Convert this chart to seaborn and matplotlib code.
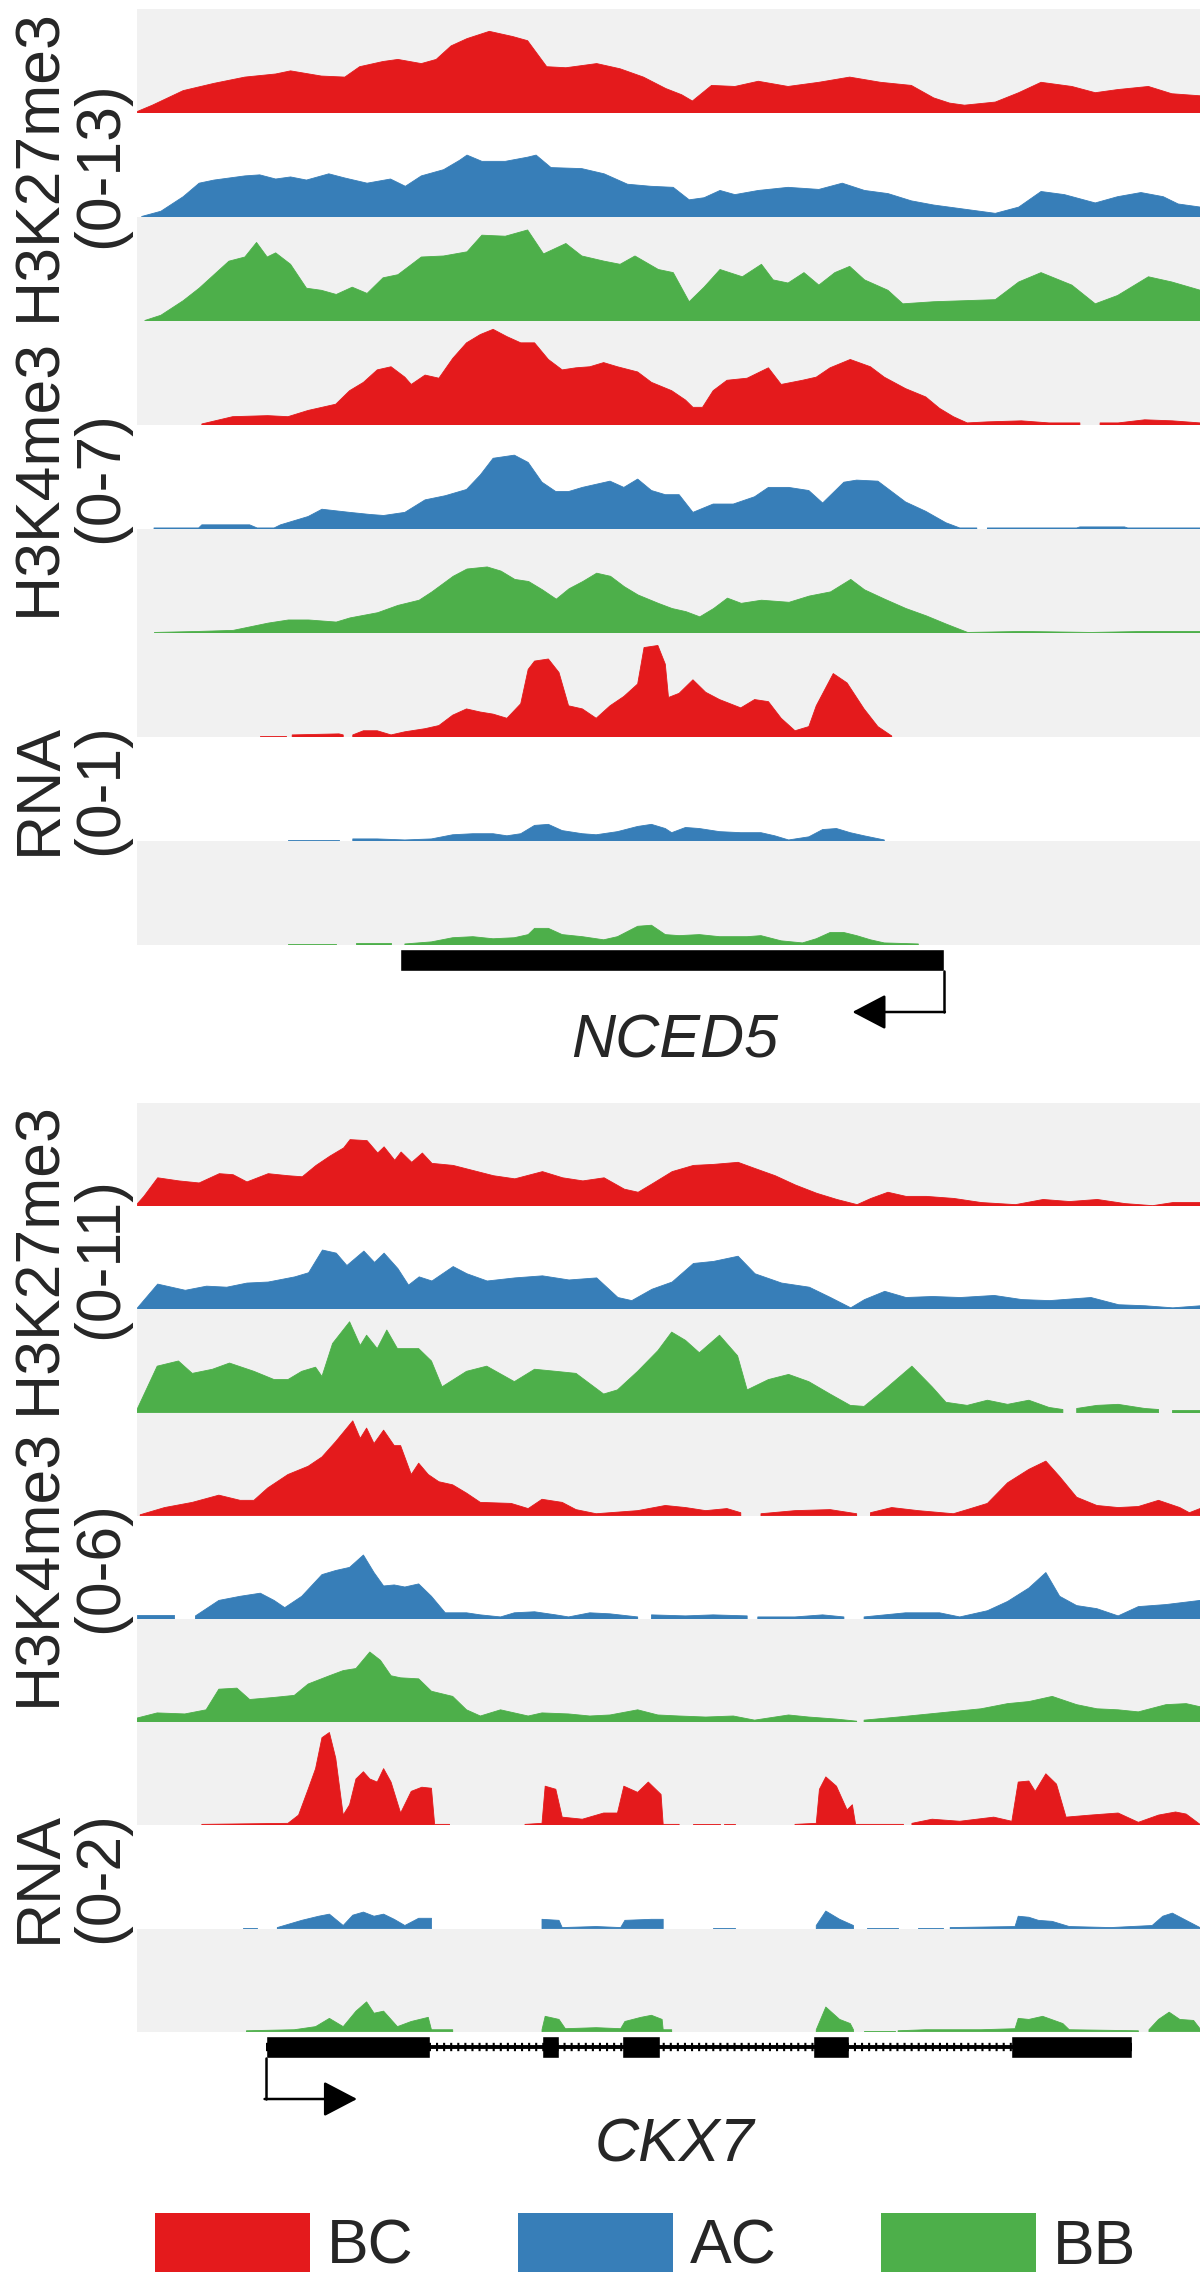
import matplotlib
matplotlib.use("Agg")
import matplotlib.pyplot as plt
from matplotlib.patches import Patch
import seaborn as sns

NAN = float("nan")

# Coverage tracks: (position along the locus in %, signal as a fraction of
# the group range written in the y label). NAN marks a bin without data.

# ---------------- NCED5 locus ----------------
NCED5_K27_BC = [(0, .02), (1.4, .08), (4.3, .22), (7.2, .29), (10.1, .35), (13.0, .38), (14.4, .41),
                (17.3, .36), (19.5, .35), (20.9, .45), (23.1, .50), (24.5, .52), (26.7, .48), (28.1, .52),
                (29.5, .65), (31.0, .72), (33.1, .79), (35.3, .74), (36.7, .70), (38.5, .45), (40.3, .44),
                (43.2, .48), (45.4, .43), (47.6, .35), (49.7, .24), (51.2, .18), (52.2, .12), (54.0, .27),
                (56.2, .26), (58.4, .31), (61.2, .26), (64.1, .30), (67.0, .35), (69.9, .30), (72.8, .27),
                (74.9, .15), (76.4, .10), (77.8, .08), (80.7, .11), (82.9, .20), (85.0, .30), (87.9, .26),
                (90.1, .20), (92.2, .23), (95.1, .26), (97.3, .19), (100, .17)]
NCED5_K27_AC = [(0.4, .01), (2.2, .06), (4.3, .20), (5.8, .33), (7.2, .36), (10.1, .40), (11.5, .41),
                (13.0, .37), (14.4, .39), (15.9, .36), (18.0, .42), (19.5, .38), (21.6, .33), (23.8, .37),
                (25.2, .30), (26.7, .40), (28.8, .46), (30.3, .55), (31.0, .60), (32.4, .54), (34.6, .54),
                (36.7, .58), (37.5, .60), (38.9, .48), (41.8, .47), (43.9, .42), (46.1, .32), (48.3, .30),
                (50.4, .29), (51.9, .17), (53.3, .19), (54.8, .26), (56.2, .22), (58.4, .26), (61.2, .29),
                (64.1, .27), (66.3, .33), (68.4, .26), (70.6, .23), (72.8, .16), (74.9, .12), (77.8, .08),
                (80.7, .04), (82.9, .10), (85.0, .25), (87.2, .22), (90.1, .14), (92.2, .20), (94.4, .24),
                (96.5, .20), (97.9, .13), (100, .10)]
NCED5_K27_BB = [(0.7, .01), (2.2, .06), (4.3, .20), (5.8, .32), (7.2, .45), (8.6, .58), (10.1, .62),
                (11.2, .76), (12.2, .62), (13.0, .66), (14.4, .55), (15.9, .32), (17.3, .30), (18.7, .26),
                (20.2, .33), (21.6, .27), (23.1, .42), (24.5, .45), (26.7, .62), (28.8, .63), (31.0, .67),
                (32.4, .83), (34.6, .82), (36.7, .88), (38.2, .65), (40.3, .75), (41.8, .63), (43.9, .58),
                (45.4, .55), (46.8, .63), (49.0, .50), (50.4, .47), (51.9, .19), (53.3, .33), (54.8, .50),
                (56.9, .43), (58.7, .55), (59.8, .40), (61.2, .37), (62.7, .47), (64.1, .35), (65.6, .47),
                (67.0, .53), (68.4, .40), (70.6, .30), (72.0, .17), (74.9, .19), (77.8, .20), (80.7, .21),
                (82.9, .38), (85.0, .47), (87.9, .35), (90.1, .17), (92.2, .25), (95.1, .43), (97.3, .38),
                (100, .30)]
NCED5_K4_BC = [(6.1, .01), (9.0, .08), (12.3, .09), (14.2, .08), (16.1, .14), (18.7, .20), (20.0, .33),
               (21.3, .41), (22.6, .53), (23.9, .56), (25.2, .46), (25.8, .39), (27.1, .48), (28.4, .45),
               (29.7, .64), (31.0, .79), (32.3, .87), (33.5, .92), (34.8, .85), (36.1, .79), (37.4, .79),
               (38.7, .63), (40.0, .53), (41.3, .55), (42.6, .56), (43.9, .60), (45.2, .56), (47.1, .51),
               (48.4, .41), (50.3, .33), (51.6, .24), (52.3, .17), (53.2, .17), (54.2, .33), (55.5, .43),
               (57.4, .45), (59.4, .55), (60.6, .39), (62.6, .43), (63.9, .46), (65.2, .55), (67.1, .63),
               (69.0, .56), (70.3, .46), (72.3, .35), (74.2, .27), (75.5, .16), (76.8, .08), (78.1, .02),
               (80.0, .03), (83.2, .04), (85.8, .02), (88.7, .02), (89.6, NAN), (90.6, .02), (92.3, .02),
               (94.8, .05), (97.4, .04), (100, .02)]
NCED5_K4_AC = [(1.6, .01), (5.8, .01), (6.1, .04), (10.6, .04), (11.3, .01), (12.9, .01), (13.5, .04),
               (16.1, .12), (17.4, .19), (20.0, .16), (21.9, .14), (23.2, .13), (25.2, .16), (27.1, .28),
               (29.0, .32), (31.0, .38), (32.3, .52), (33.5, .68), (35.5, .71), (36.8, .64), (38.1, .45),
               (39.4, .36), (40.6, .36), (41.9, .40), (43.2, .43), (44.5, .46), (45.8, .40), (47.1, .48),
               (48.4, .37), (49.7, .33), (51.0, .33), (52.3, .16), (54.2, .24), (56.1, .24), (58.1, .31),
               (59.4, .40), (61.3, .40), (63.2, .37), (64.5, .25), (66.5, .45), (67.7, .47), (69.7, .46),
               (71.0, .36), (72.3, .26), (74.2, .17), (76.1, .06), (77.4, .01), (79.0, .01), (79.5, NAN),
               (80.0, .01), (88.4, .01), (88.7, .02), (92.9, .02), (93.2, .01), (100, .01)]
NCED5_K4_BB = [(1.6, .01), (5.8, .02), (9.0, .03), (12.3, .10), (14.2, .13), (16.1, .13), (18.7, .11),
               (20.0, .15), (22.6, .20), (24.5, .27), (26.5, .32), (27.7, .40), (29.7, .55), (31.0, .62),
               (32.9, .64), (34.2, .60), (35.5, .52), (36.8, .50), (38.1, .42), (39.4, .33), (40.6, .43),
               (41.9, .50), (43.2, .58), (44.5, .55), (45.8, .45), (47.1, .37), (49.0, .29), (50.3, .24),
               (51.6, .21), (52.9, .16), (54.2, .24), (55.5, .34), (56.8, .29), (58.7, .32), (61.3, .30),
               (63.2, .36), (65.2, .40), (67.1, .52), (68.4, .42), (70.3, .33), (72.3, .24), (74.2, .17),
               (76.1, .09), (78.1, .01), (83.2, .02), (89.7, .01), (94.8, .02), (100, .02)]
NCED5_RNA_BC = [(11.6, .01), (14.0, .01), (14.3, NAN), (14.6, .02), (19.0, .03), (19.4, .02), (19.9, NAN),
                (20.3, .02), (21.3, .06), (22.6, .06), (23.9, .02), (25.2, .05), (27.1, .08), (28.4, .11),
                (29.7, .21), (31.0, .27), (32.3, .24), (33.5, .22), (34.8, .18), (36.1, .32), (36.8, .65),
                (37.4, .73), (38.7, .75), (39.7, .62), (40.6, .30), (41.9, .27), (43.2, .18), (44.5, .30),
                (45.8, .39), (47.1, .51), (47.7, .86), (49.0, .88), (49.7, .70), (50.0, .38), (51.0, .42),
                (52.3, .55), (53.5, .43), (54.8, .36), (56.8, .28), (58.1, .36), (59.4, .34), (60.6, .18),
                (61.9, .06), (63.2, .10), (63.9, .30), (65.5, .61), (66.8, .52), (68.4, .27), (69.7, .10),
                (71.0, .01)]
NCED5_RNA_AC = [(14.2, .01), (19.0, .01), (19.7, NAN), (20.3, .02), (22.6, .02), (25.2, .01), (27.7, .02),
                (29.7, .06), (31.6, .07), (33.5, .07), (34.8, .05), (36.1, .07), (37.4, .15), (38.7, .16),
                (40.0, .10), (41.9, .07), (43.2, .06), (45.2, .09), (47.1, .14), (48.4, .16), (49.7, .12),
                (50.3, .08), (51.6, .13), (52.9, .12), (54.8, .09), (56.8, .08), (58.7, .08), (60.0, .05),
                (61.3, .01), (63.2, .04), (64.5, .11), (65.8, .12), (67.1, .08), (68.4, .05), (70.3, .01)]
NCED5_RNA_BB = [(14.2, .01), (18.7, .01), (19.4, NAN), (20.6, .02), (23.9, .02), (24.5, NAN), (25.2, .01),
                (27.7, .03), (29.7, .07), (31.6, .08), (33.5, .06), (35.5, .07), (36.8, .10), (37.4, .16),
                (38.7, .16), (40.0, .10), (41.9, .08), (43.9, .05), (45.2, .08), (47.1, .18), (48.4, .19),
                (49.7, .10), (51.0, .09), (52.9, .10), (54.8, .08), (57.4, .08), (58.7, .09), (60.6, .04),
                (62.6, .02), (63.9, .06), (65.2, .12), (66.5, .12), (67.7, .09), (69.0, .05), (70.3, .02),
                (73.5, .01)]

# ---------------- CKX7 locus ----------------
CKX7_K27_BC = [(0, .03), (0.6, .10), (1.9, .28), (3.9, .25), (5.8, .23), (7.7, .32), (9.0, .31), (10.3, .24),
               (12.3, .32), (14.2, .30), (15.5, .29), (16.8, .40), (18.1, .49), (19.4, .57), (20.0, .65),
               (21.6, .64), (22.6, .52), (23.2, .58), (24.2, .45), (24.8, .53), (25.8, .43), (26.8, .52),
               (27.7, .42), (29.7, .40), (31.6, .35), (33.5, .30), (35.5, .27), (38.1, .34), (40.0, .28),
               (41.9, .25), (43.9, .28), (45.8, .17), (47.1, .14), (48.4, .22), (50.3, .34), (52.3, .40),
               (54.2, .41), (56.5, .43), (58.1, .37), (60.0, .30), (61.9, .21), (63.9, .13), (65.8, .07),
               (67.7, .02), (69.0, .08), (70.6, .14), (72.3, .10), (74.2, .10), (76.8, .08), (79.4, .04),
               (82.6, .02), (85.2, .07), (87.7, .05), (90.3, .07), (92.9, .03), (95.5, .01), (97.4, .04),
               (100, .04)]
CKX7_K27_AC = [(0, .02), (1.9, .25), (3.2, .22), (4.5, .19), (6.5, .23), (8.4, .22), (10.3, .26), (12.3, .27),
               (14.8, .32), (16.1, .36), (17.4, .58), (18.7, .55), (19.7, .43), (21.3, .57), (22.3, .46),
               (23.2, .55), (24.5, .40), (25.5, .24), (26.5, .32), (27.7, .28), (29.7, .42), (31.0, .35),
               (32.9, .28), (35.5, .31), (38.1, .33), (40.6, .29), (43.2, .31), (45.2, .12), (46.5, .09),
               (48.4, .20), (50.3, .27), (52.3, .45), (54.2, .47), (56.5, .52), (58.1, .35), (60.6, .26),
               (63.2, .22), (65.2, .12), (67.1, .02), (68.4, .10), (70.3, .18), (72.3, .12), (74.8, .13),
               (77.4, .12), (80.6, .14), (83.2, .10), (85.8, .09), (89.7, .12), (92.3, .05), (94.8, .04),
               (97.4, .02), (100, .04)]
CKX7_K27_BB = [(0, .03), (1.9, .45), (3.9, .50), (5.2, .38), (7.1, .42), (8.7, .48), (11.0, .40), (12.9, .32),
               (14.2, .32), (15.5, .40), (16.8, .44), (17.4, .35), (18.4, .67), (20.0, .88), (21.0, .65),
               (21.6, .75), (22.6, .62), (23.5, .80), (24.5, .62), (26.5, .62), (27.7, .50), (28.7, .25),
               (31.0, .40), (32.9, .45), (35.5, .30), (37.4, .42), (39.4, .40), (41.3, .38), (43.9, .18),
               (45.2, .22), (47.1, .40), (49.0, .60), (50.3, .78), (51.6, .70), (52.9, .58), (54.8, .75),
               (56.5, .55), (57.4, .22), (59.4, .32), (61.3, .37), (63.2, .30), (65.2, .18), (67.1, .07),
               (68.4, .06), (70.3, .22), (72.9, .45), (74.8, .25), (76.1, .10), (78.1, .07), (80.0, .12),
               (81.9, .08), (83.9, .12), (85.8, .05), (87.1, .03), (87.5, NAN), (88.4, .04), (90.3, .07),
               (92.3, .08), (94.8, .04), (96.1, .03), (96.5, NAN), (97.4, .03), (100, .03)]
CKX7_K4_BC = [(0.3, .01), (2.6, .08), (5.2, .13), (7.7, .20), (9.7, .15), (11.0, .15), (12.3, .27), (14.2, .40),
              (16.1, .48), (17.4, .57), (18.7, .72), (20.3, .92), (21.0, .75), (21.6, .85), (22.3, .70),
              (23.2, .83), (24.2, .68), (24.8, .68), (25.8, .40), (26.5, .51), (27.4, .40), (28.4, .33),
              (29.7, .30), (31.0, .22), (32.3, .13), (35.2, .12), (36.8, .07), (38.1, .16), (40.0, .13),
              (41.3, .06), (43.2, .02), (44.5, .03), (47.1, .05), (49.7, .10), (51.6, .08), (53.5, .05),
              (55.5, .07), (56.8, .03), (57.8, NAN), (58.7, .02), (61.9, .05), (65.2, .06), (67.7, .02),
              (68.4, NAN), (69.0, .03), (71.0, .08), (73.5, .05), (76.8, .02), (78.1, .06), (80.0, .12),
              (81.9, .32), (83.9, .45), (85.5, .53), (86.8, .38), (88.4, .18), (90.3, .10), (92.3, .08),
              (94.2, .09), (96.1, .15), (98.1, .08), (99.0, .03), (100, .07)]
CKX7_K4_AC = [(0, .04), (3.5, .04), (4.5, NAN), (5.5, .03), (7.7, .18), (9.7, .22), (11.6, .25), (12.9, .18),
              (13.9, .11), (15.5, .22), (17.4, .43), (18.7, .47), (20.0, .50), (21.3, .62), (22.3, .45),
              (23.2, .32), (24.2, .33), (25.2, .31), (26.5, .34), (27.7, .22), (29.0, .06), (31.0, .06),
              (32.3, .04), (34.2, .02), (35.5, .06), (37.4, .07), (39.4, .04), (40.6, .02), (42.6, .06),
              (44.5, .05), (47.1, .02), (47.5, NAN), (48.4, .04), (51.6, .03), (54.2, .04), (57.4, .03),
              (58.0, NAN), (58.4, .02), (61.9, .02), (64.5, .04), (66.5, .02), (67.4, NAN), (68.4, .02),
              (72.3, .06), (75.5, .06), (77.4, .02), (80.0, .08), (81.9, .17), (83.9, .30), (85.5, .45),
              (86.8, .22), (88.4, .13), (90.3, .10), (92.3, .03), (94.2, .12), (96.8, .14), (100, .18)]
CKX7_K4_BB = [(0, .04), (1.9, .09), (4.5, .08), (6.5, .12), (7.7, .32), (9.4, .33), (10.6, .22), (12.9, .24),
              (14.8, .26), (16.1, .37), (18.1, .45), (19.4, .50), (20.6, .52), (21.9, .68), (22.9, .60),
              (23.9, .45), (24.8, .43), (26.5, .42), (27.7, .30), (29.7, .25), (31.0, .12), (32.3, .06),
              (34.2, .12), (36.8, .06), (38.1, .09), (40.6, .08), (42.6, .06), (44.5, .07), (47.1, .12),
              (49.0, .07), (51.0, .06), (53.5, .05), (56.1, .06), (58.1, .02), (61.3, .07), (63.2, .05),
              (65.8, .03), (67.7, .01), (68.1, NAN), (68.4, .02), (71.6, .05), (75.5, .09), (79.4, .13),
              (81.9, .18), (83.9, .20), (86.1, .25), (88.4, .17), (90.3, .13), (92.3, .12), (94.2, .10),
              (96.8, .17), (98.7, .18), (100, .15)]
CKX7_RNA_BC = [(6.1, .01), (14.2, .02), (15.2, .10), (16.1, .35), (16.8, .55), (17.4, .85), (18.1, .90),
               (18.7, .65), (19.4, .10), (20.0, .20), (20.6, .45), (21.3, .52), (21.9, .45), (22.6, .42),
               (23.2, .55), (23.9, .42), (24.8, .12), (25.8, .33), (26.8, .37), (27.7, .36), (28.0, .01),
               (29.4, .01), (29.8, NAN), (36.5, .01), (38.1, .02), (38.4, .38), (39.4, .35), (40.0, .08),
               (41.9, .06), (43.9, .12), (45.2, .12), (45.8, .38), (47.1, .32), (48.1, .42), (49.3, .30),
               (49.5, .01), (51.0, .01), (51.5, NAN), (52.3, .01), (54.8, .01), (55.0, NAN), (55.2, .01),
               (56.3, .01), (56.8, NAN), (61.9, .01), (63.9, .02), (64.2, .35), (64.8, .47), (65.8, .38),
               (66.8, .15), (67.3, .20), (67.6, .01), (72.1, .01), (72.4, NAN), (72.9, .02), (74.8, .06),
               (77.4, .04), (80.6, .08), (82.3, .04), (82.9, .42), (83.9, .43), (84.5, .33), (85.5, .50),
               (86.5, .40), (87.4, .08), (89.7, .10), (92.3, .12), (94.2, .03), (96.1, .10), (97.7, .13),
               (98.7, .11), (100, .01)]
CKX7_RNA_AC = [(10.0, .01), (11.3, .01), (12.0, NAN), (13.2, .01), (15.5, .08), (17.1, .12), (18.1, .14),
               (19.4, .03), (20.3, .13), (21.3, .16), (22.3, .12), (23.2, .14), (24.2, .09), (25.2, .03),
               (26.5, .10), (27.7, .10), (28.0, NAN), (38.1, .09), (39.7, .08), (40.0, .01), (43.2, .02),
               (45.5, .01), (45.9, .08), (48.4, .09), (49.5, .09), (49.8, NAN), (54.2, .01), (56.3, .01),
               (56.8, NAN), (63.9, .03), (64.8, .17), (66.1, .09), (67.4, .03), (68.0, NAN), (68.7, .01),
               (71.6, .01), (72.4, NAN), (73.5, .01), (75.8, .01), (76.1, NAN), (76.5, .01), (82.6, .02),
               (82.9, .12), (83.9, .11), (84.8, .08), (86.1, .07), (87.7, .02), (91.6, .01), (95.5, .03),
               (96.5, .12), (97.4, .15), (98.7, .08), (100, .01)]
CKX7_RNA_BB = [(10.3, .01), (14.8, .02), (16.8, .05), (18.1, .13), (19.4, .05), (20.6, .20), (21.6, .29),
               (22.3, .18), (23.2, .20), (24.5, .05), (25.8, .10), (27.4, .14), (27.7, .02), (29.7, .02),
               (30.0, NAN), (38.1, .02), (38.4, .15), (39.7, .12), (40.3, .03), (43.2, .04), (45.5, .03),
               (45.9, .10), (47.4, .14), (48.4, .16), (49.4, .12), (49.5, .02), (50.3, .02), (50.6, NAN),
               (63.9, .02), (64.8, .24), (66.1, .12), (67.1, .08), (67.4, .02), (67.9, NAN), (68.4, .01),
               (71.3, .01), (71.5, NAN), (71.6, .01), (74.2, .02), (79.4, .02), (82.6, .03), (82.9, .13),
               (83.9, .12), (85.2, .15), (87.1, .08), (87.7, .02), (94.2, .01), (94.6, NAN), (95.2, .02),
               (96.1, .12), (97.1, .19), (98.1, .12), (99.4, .11), (100, .03)]

SAMPLES = ["BC", "AC", "BB"]
MARKS = ["H3K27me3", "H3K4me3", "RNA"]
NCED5_RANGES = ["0-13", "0-7", "0-1"]
CKX7_RANGES = ["0-11", "0-6", "0-2"]

# gene models (start, end) in the same locus coordinates
NCED5_EXONS = [(24.7, 75.9)]
NCED5_STRAND = "-"
CKX7_EXONS = [(12.1, 27.6), (38.1, 39.7), (45.6, 49.2), (63.6, 67.0), (82.2, 93.6)]
CKX7_STRAND = "+"

NCED5_TRACKS = [NCED5_K27_BC, NCED5_K27_AC, NCED5_K27_BB,
                NCED5_K4_BC, NCED5_K4_AC, NCED5_K4_BB,
                NCED5_RNA_BC, NCED5_RNA_AC, NCED5_RNA_BB]
CKX7_TRACKS = [CKX7_K27_BC, CKX7_K27_AC, CKX7_K27_BB,
               CKX7_K4_BC, CKX7_K4_AC, CKX7_K4_BB,
               CKX7_RNA_BC, CKX7_RNA_AC, CKX7_RNA_BB]

sns.set_style("white")
plt.rcParams["font.family"] = ["Liberation Sans", "DejaVu Sans"]
palette = dict(zip(SAMPLES, sns.color_palette("Set1", 3)))
GREY = "#f1f1f1"

W, H = 1200, 2286
LEFT, RIGHT = 137, 1200
fig = plt.figure(figsize=(W / 100, H / 100), dpi=100)


def px_axes(x0, y0, x1, y1):
    return fig.add_axes([x0 / W, 1 - y1 / H, (x1 - x0) / W, (y1 - y0) / H])


def draw_tracks(tracks, ranges, top, step):
    for i, data in enumerate(tracks):
        sample = SAMPLES[i % 3]
        ax = px_axes(LEFT, top + i * step, RIGHT, top + (i + 1) * step)
        pos, sig = zip(*data)
        ax.fill_between(pos, 0, sig, color=palette[sample], linewidth=0.6)
        ax.set_facecolor("white" if sample == "AC" else GREY)
        ax.set_xlim(0, 100)
        ax.set_ylim(0, 1)
        ax.set_xticks([])
        ax.set_yticks([])
        for s in ax.spines.values():
            s.set_visible(False)
    for g, (mark, rng) in enumerate(zip(MARKS, ranges)):
        yc = top + (3 * g + 1.5) * step
        fig.text(70 / W, 1 - yc / H, f"{mark}\n({rng})", rotation=90, ha="center",
                 va="center", multialignment="center", fontsize=45, linespacing=1.05)


def draw_gene(exons, strand, name, top, bottom, label_base):
    ax = px_axes(LEFT, top, RIGHT, bottom)
    ax.set_xlim(0, 100)
    ax.set_ylim(bottom - top, 0)
    ax.axis("off")
    start, end = exons[0][0], exons[-1][1]
    if len(exons) > 1:
        ax.plot([start, end], [15, 15], color="black", lw=2.8, solid_capstyle="butt")
        ax.plot([start, end], [15, 15], color="black", lw=6, linestyle=(0, (0.25, 0.6)))
    ax.broken_barh([(a, b - a) for a, b in exons], (4, 22), facecolors="black")
    tss = start if strand == "+" else end
    sgn = 1 if strand == "+" else -1
    ax.plot([tss, tss], [26, 67], color="black", lw=1.8)
    ax.annotate("", xy=(tss + sgn * 8.6, 67), xytext=(tss - sgn * 0.1, 67),
                arrowprops=dict(arrowstyle="-|>,head_length=1.05,head_width=0.55",
                                mutation_scale=20, lw=1.8, color="black",
                                shrinkA=0, shrinkB=0))
    ax.text(50.6, label_base, name, style="italic", fontsize=44, ha="center", va="baseline")


draw_tracks(NCED5_TRACKS, NCED5_RANGES, 9, 104)
draw_gene(NCED5_EXONS, NCED5_STRAND, "NCED5", 945, 1075, 113)
draw_tracks(CKX7_TRACKS, CKX7_RANGES, 1103, 103.2)
draw_gene(CKX7_EXONS, CKX7_STRAND, "CKX7", 2032, 2180, 130)

handles = [Patch(facecolor=palette[s], edgecolor="none") for s in SAMPLES]
fig.legend(handles, SAMPLES, loc="center", bbox_to_anchor=(0.538, 1 - 2245 / H), ncol=3,
           frameon=False, fontsize=45, handlelength=2.48, handleheight=1.06,
           handletextpad=0.26, columnspacing=1.68)

fig.savefig("out.png", dpi=100)
